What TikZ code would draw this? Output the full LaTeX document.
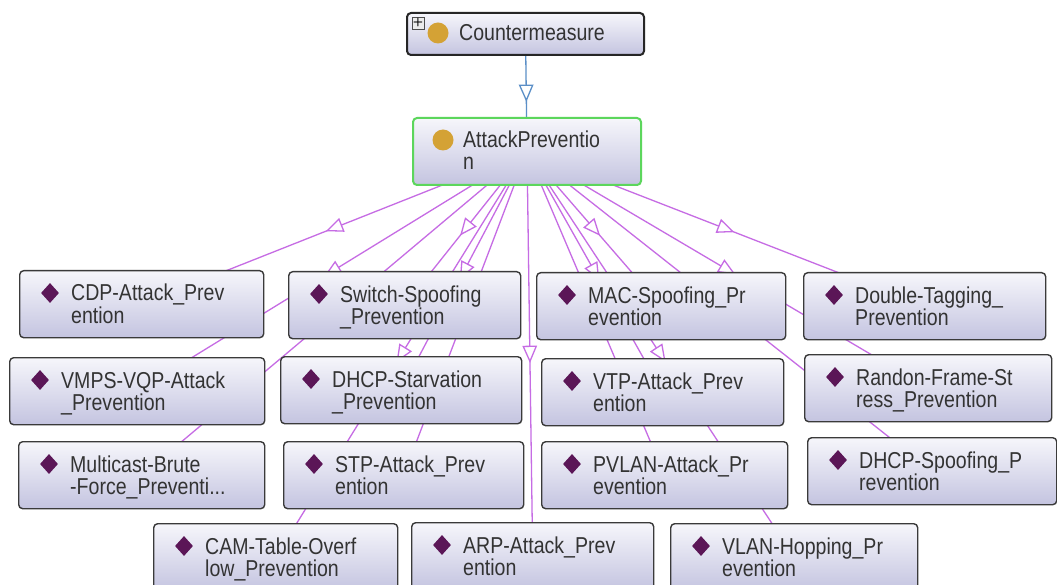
\documentclass[tikz,border=0pt]{standalone}
\usepackage{fontspec}
\newfontfamily\ogfont[FakeStretch=0.85]{Liberation Sans}
\usetikzlibrary{shapes.geometric,decorations.markings,backgrounds}
\definecolor{BoxTop}{HTML}{F6F6FB}
\definecolor{BoxBot}{HTML}{C4C4E0}
\definecolor{BoxLine}{HTML}{3A3A3A}
\definecolor{ClsGreen}{HTML}{5CD65C}
\definecolor{Gem}{HTML}{5B1657}
\definecolor{Dot}{HTML}{D4A235}
\definecolor{EdgeV}{HTML}{C66CE4}
\definecolor{EdgeB}{HTML}{5B8FC7}
\definecolor{Txt}{HTML}{333333}
\tikzset{
	indiv/.style   = {draw=BoxLine, line width=1.4pt, rounded corners=4pt,
		top color=BoxTop, bottom color=BoxBot, anchor=north west,
		minimum height=67, inner sep=0},
	gemicon/.style = {diamond, fill=Gem, minimum width=18, minimum height=20, inner sep=0},
	dotcon/.style  = {circle, fill=Dot, minimum size=21, inner sep=0},
	plusbox/.style = {draw=black!70, line width=0.8pt, fill=black!8, minimum size=12,
		inner sep=0, font=\sffamily\bfseries\fontsize{12}{12}\selectfont},
	lbl/.style     = {font=\ogfont\fontsize{23}{23}\selectfont, text=Txt,
		anchor=base west, inner sep=0},
	isa/.style     = {draw=#1, line width=1.3pt, postaction={decorate},
		decoration={markings, mark=at position 0.5 with
			{\draw[draw=#1, fill=white, line width=1.3pt]
				(7.5,0) -- (-7.5,6.5) -- (-7.5,-6.5) -- cycle;}}},
	isa/.default   = EdgeV,
}

\begin{document}
\begin{tikzpicture}[x=1pt, y=-1pt]
	
	\useasboundingbox (0,0) rectangle (1057,585);
	\clip (0,0) rectangle (1057,585);
	
	%%═══════════════════════════════════════════════════════════════════
	%% CLASSES
	%%═══════════════════════════════════════════════════════════════════
	
	%% Countermeasure ──────────────────────────────────────────────────
	\node[indiv, draw=black!85, line width=2pt, minimum width=237, minimum height=42]
	(cm) at (406,12) {};
	\node[plusbox] (cm-plus) at (418,23) {+};
	\node[dotcon]  (cm-ic)   at (438,33) {};
	\node[lbl]     (cm-l1)   at (459,41) {Countermeasure};
	
	%% AttackPrevention ────────────────────────────────────────────────
	\node[indiv, draw=ClsGreen, line width=2pt, minimum width=228] (ap) at (412,117) {};
	\node[dotcon] (ap-ic) at (443,140) {};
	\node[lbl]    (ap-l1) at (463,148) {AttackPreventio};
	\node[lbl]    (ap-l2) at (463,170) {n};
	
	%%═══════════════════════════════════════════════════════════════════
	%% INDIVIDUALS   (box 67 high, gem at +31/+23, text at +52/+31, +53)
	%%═══════════════════════════════════════════════════════════════════
	
	%% row 1 ───────────────────────────────────────────────────────────
	\node[indiv, minimum width=244] (cdp) at (19,270) {};
	\node[gemicon] (cdp-ic) at (50,293) {};
	\node[lbl] (cdp-l1) at (71,301) {CDP-Attack\_Prev};
	\node[lbl] (cdp-l2) at (71,323) {ention};
	
	\node[indiv, minimum width=232] (sws) at (288,271) {};
	\node[gemicon] (sws-ic) at (319,294) {};
	\node[lbl] (sws-l1) at (340,302) {Switch-Spoofing};
	\node[lbl] (sws-l2) at (340,324) {\_Prevention};
	
	\node[indiv, minimum width=249] (macs) at (536,272) {};
	\node[gemicon] (macs-ic) at (567,295) {};
	\node[lbl] (macs-l1) at (588,303) {MAC-Spoofing\_Pr};
	\node[lbl] (macs-l2) at (588,325) {evention};
	
	\node[indiv, minimum width=242] (dtag) at (803,272) {};
	\node[gemicon] (dtag-ic) at (834,295) {};
	\node[lbl] (dtag-l1) at (855,303) {Double-Tagging\_};
	\node[lbl] (dtag-l2) at (855,325) {Prevention};
	
	%% row 2 ───────────────────────────────────────────────────────────
	\node[indiv, minimum width=255] (vmps) at (9,357) {};
	\node[gemicon] (vmps-ic) at (40,380) {};
	\node[lbl] (vmps-l1) at (61,388) {VMPS-VQP-Attack};
	\node[lbl] (vmps-l2) at (61,410) {\_Prevention};
	
	\node[indiv, minimum width=241] (dhcpst) at (280,356) {};
	\node[gemicon] (dhcpst-ic) at (311,379) {};
	\node[lbl] (dhcpst-l1) at (332,387) {DHCP-Starvation};
	\node[lbl] (dhcpst-l2) at (332,409) {\_Prevention};
	
	\node[indiv, minimum width=242] (vtp) at (541,358) {};
	\node[gemicon] (vtp-ic) at (572,381) {};
	\node[lbl] (vtp-l1) at (593,389) {VTP-Attack\_Prev};
	\node[lbl] (vtp-l2) at (593,411) {ention};
	
	\node[indiv, minimum width=247] (rfs) at (804,354) {};
	\node[gemicon] (rfs-ic) at (835,377) {};
	\node[lbl] (rfs-l1) at (856,385) {Randon-Frame-St};
	\node[lbl] (rfs-l2) at (856,407) {ress\_Prevention};
	
	%% row 3 ───────────────────────────────────────────────────────────
	\node[indiv, minimum width=246] (mcbf) at (18,441) {};
	\node[gemicon] (mcbf-ic) at (49,464) {};
	\node[lbl] (mcbf-l1) at (70,472) {Multicast-Brute};
	\node[lbl] (mcbf-l2) at (70,494) {-Force\_Preventi...};
	
	\node[indiv, minimum width=240] (stp) at (283,441) {};
	\node[gemicon] (stp-ic) at (314,464) {};
	\node[lbl] (stp-l1) at (335,472) {STP-Attack\_Prev};
	\node[lbl] (stp-l2) at (335,494) {ention};
	
	\node[indiv, minimum width=246] (pvlan) at (541,441) {};
	\node[gemicon] (pvlan-ic) at (572,464) {};
	\node[lbl] (pvlan-l1) at (593,472) {PVLAN-Attack\_Pr};
	\node[lbl] (pvlan-l2) at (593,494) {evention};
	
	\node[indiv, minimum width=249] (dhcpsp) at (807,437) {};
	\node[gemicon] (dhcpsp-ic) at (838,460) {};
	\node[lbl] (dhcpsp-l1) at (859,468) {DHCP-Spoofing\_P};
	\node[lbl] (dhcpsp-l2) at (859,490) {revention};
	
	%% row 4 (runs off the bottom edge) ────────────────────────────────
	\node[indiv, minimum width=244] (cam) at (153,523) {};
	\node[gemicon] (cam-ic) at (184,546) {};
	\node[lbl] (cam-l1) at (205,554) {CAM-Table-Overf};
	\node[lbl] (cam-l2) at (205,576) {low\_Prevention};
	
	\node[indiv, minimum width=242] (arp) at (411,522) {};
	\node[gemicon] (arp-ic) at (442,545) {};
	\node[lbl] (arp-l1) at (463,553) {ARP-Attack\_Prev};
	\node[lbl] (arp-l2) at (463,575) {ention};
	
	\node[indiv, minimum width=247] (vlanh) at (670,523) {};
	\node[gemicon] (vlanh-ic) at (701,546) {};
	\node[lbl] (vlanh-l1) at (722,554) {VLAN-Hopping\_Pr};
	\node[lbl] (vlanh-l2) at (722,576) {evention};
	
	%%═══════════════════════════════════════════════════════════════════
	%% SUBCLASS / INSTANCE EDGES  (centre to centre, behind the boxes)
	%%═══════════════════════════════════════════════════════════════════
	\begin{scope}[on background layer]
		\fill[white] (0,0) rectangle (1057,585);
		\draw[isa=EdgeB] (cm.center) -- (ap.center);
		
		\draw[isa] (ap.center) -- (cdp.center);
		\draw[isa] (ap.center) -- (sws.center);
		\draw[isa] (ap.center) -- (macs.center);
		\draw[isa] (ap.center) -- (dtag.center);
		\draw[isa] (ap.center) -- (vmps.center);
		\draw[isa] (ap.center) -- (dhcpst.center);
		\draw[isa] (ap.center) -- (vtp.center);
		\draw[isa] (ap.center) -- (rfs.center);
		\draw[isa] (ap.center) -- (mcbf.center);
		\draw[isa] (ap.center) -- (stp.center);
		\draw[isa] (ap.center) -- (pvlan.center);
		\draw[isa] (ap.center) -- (dhcpsp.center);
		\draw[isa] (ap.center) -- (cam.center);
		\draw[isa] (ap.center) -- (arp.center);
		\draw[isa] (ap.center) -- (vlanh.center);
	\end{scope}
	
\end{tikzpicture}
\end{document}
